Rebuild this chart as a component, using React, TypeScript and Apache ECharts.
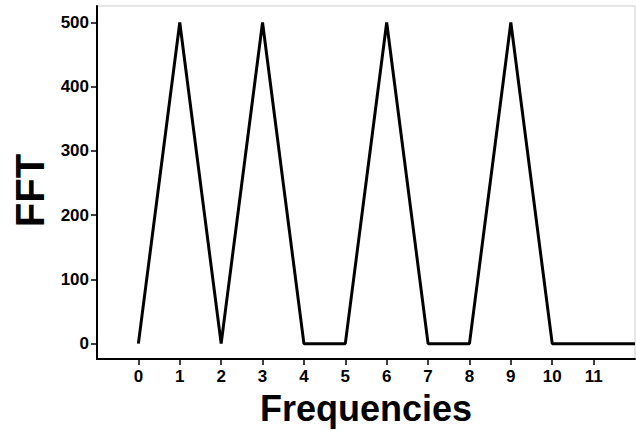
import React, { useEffect, useRef } from "react";
import * as echarts from "echarts";

const frequencies = [0, 1, 2, 3, 4, 5, 6, 7, 8, 9, 10, 11, 12];
const fftValues = [0, 500, 0, 500, 0, 0, 500, 0, 0, 500, 0, 0, 0];
const xTicks = [0, 1, 2, 3, 4, 5, 6, 7, 8, 9, 10, 11];
const yTicks = [0, 100, 200, 300, 400, 500];

const FONT = "'Liberation Sans', Arial, sans-serif";

export default function App() {
  const ref = useRef<HTMLDivElement>(null);
  useEffect(() => {
    if (!ref.current) return;
    const chart = echarts.init(ref.current, null, { renderer: "svg" });
    chart.setOption({
      animation: false,
      backgroundColor: "#ffffff",
      grid: {
        left: 97,
        top: 6,
        right: 1,
        bottom: 66,
        show: true,
        borderColor: "#cccccc",
        borderWidth: 1,
      },
      xAxis: {
        type: "value",
        min: -1,
        max: 12,
        name: "Frequencies",
        nameLocation: "middle",
        nameGap: 27,
        nameTextStyle: { fontFamily: FONT, fontWeight: "bold", fontSize: 36, color: "#000" },
        splitLine: { show: false },
        axisLine: { show: true, onZero: false, lineStyle: { color: "#000", width: 2 } },
        axisTick: {
          show: true,
          customValues: xTicks,
          length: 6,
          lineStyle: { color: "#000", width: 1.5 },
        },
        axisLabel: {
          customValues: xTicks,
          fontFamily: FONT,
          fontWeight: "bold",
          fontSize: 17,
          color: "#000",
          margin: 9,
        },
      },
      yAxis: {
        type: "value",
        min: -24,
        max: 525.6,
        name: "FFT",
        nameLocation: "middle",
        nameGap: 41,
        nameTextStyle: {
          fontFamily: FONT,
          fontWeight: "bold",
          fontSize: 40,
          color: "#000",
          padding: [0, 16, 0, 0],
        },
        splitLine: { show: false },
        axisLine: { show: true, onZero: false, lineStyle: { color: "#000", width: 2 } },
        axisTick: {
          show: true,
          customValues: yTicks,
          length: 6,
          lineStyle: { color: "#000", width: 1.5 },
        },
        axisLabel: {
          customValues: yTicks,
          fontFamily: FONT,
          fontWeight: "bold",
          fontSize: 17,
          color: "#000",
          margin: 8,
        },
      },
      series: [
        {
          type: "line",
          data: frequencies.map((f, i) => [f, fftValues[i]]),
          symbol: "none",
          lineStyle: { color: "#000", width: 3 },
          clip: true,
        },
      ],
    });
    return () => chart.dispose();
  }, []);
  return <div ref={ref} style={{ width: 636, height: 431, position: "absolute", left: 0, top: 0 }} />;
}
